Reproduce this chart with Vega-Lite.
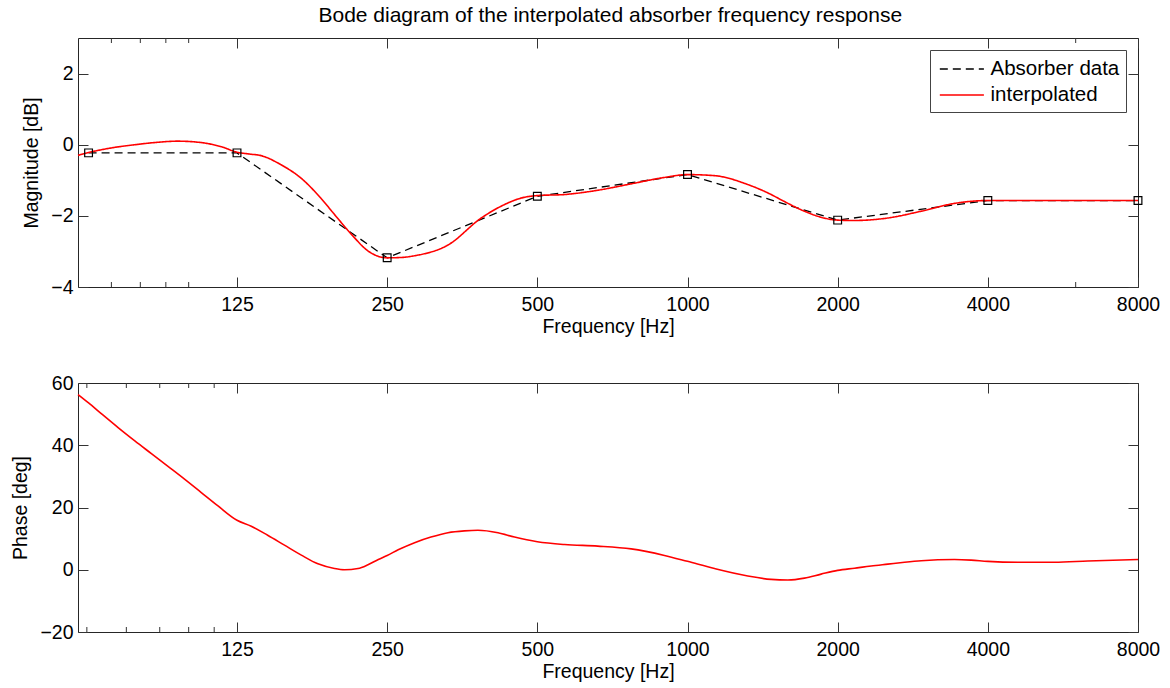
{
  "$schema": "https://vega.github.io/schema/vega-lite/v6.json",
  "background": "white",
  "padding": {"left": 10, "top": 5, "right": 5, "bottom": 5},
  "title": {"text": "Bode diagram of the interpolated absorber frequency response", "anchor": "middle", "fontSize": 21, "fontWeight": "normal", "font": "Liberation Sans", "color": "#000", "offset": 11, "dx": 25},
  "spacing": 36,
  "datasets": {
    "absorber": [
      {"f": 63, "mag": -0.23}, {"f": 125, "mag": -0.23}, {"f": 250, "mag": -3.18}, {"f": 500, "mag": -1.45},
      {"f": 1000, "mag": -0.84}, {"f": 2000, "mag": -2.12}, {"f": 4000, "mag": -1.57}, {"f": 8000, "mag": -1.57}
    ],
    "interp": [
      {"f": 60, "mag": -0.30}, {"f": 63, "mag": -0.22}, {"f": 70, "mag": -0.09}, {"f": 78, "mag": 0.0},
      {"f": 85.4, "mag": 0.06}, {"f": 95, "mag": 0.10}, {"f": 106, "mag": 0.06}, {"f": 116.5, "mag": -0.06},
      {"f": 125, "mag": -0.21}, {"f": 132, "mag": -0.26}, {"f": 140, "mag": -0.31}, {"f": 153, "mag": -0.56},
      {"f": 168, "mag": -0.94}, {"f": 184, "mag": -1.50}, {"f": 196, "mag": -1.96}, {"f": 212, "mag": -2.52},
      {"f": 229, "mag": -2.99}, {"f": 250, "mag": -3.18}, {"f": 267, "mag": -3.17}, {"f": 284, "mag": -3.12},
      {"f": 331, "mag": -2.82}, {"f": 386, "mag": -2.06}, {"f": 430, "mag": -1.68}, {"f": 464, "mag": -1.50},
      {"f": 500, "mag": -1.43}, {"f": 567, "mag": -1.40}, {"f": 661, "mag": -1.28}, {"f": 771, "mag": -1.10},
      {"f": 899, "mag": -0.92}, {"f": 1000, "mag": -0.84}, {"f": 1133, "mag": -0.87}, {"f": 1321, "mag": -1.12},
      {"f": 1471, "mag": -1.40}, {"f": 1541, "mag": -1.55}, {"f": 1716, "mag": -1.87}, {"f": 1853, "mag": -2.04},
      {"f": 2000, "mag": -2.12}, {"f": 2162, "mag": -2.13}, {"f": 2521, "mag": -2.06}, {"f": 2941, "mag": -1.87},
      {"f": 3430, "mag": -1.65}, {"f": 4000, "mag": -1.57}, {"f": 5000, "mag": -1.57}, {"f": 8000, "mag": -1.57}
    ],
    "phase": [
      {"f": 60, "ph": 56.3}, {"f": 63, "ph": 53.6}, {"f": 67, "ph": 50.0}, {"f": 72.3, "ph": 45.6},
      {"f": 78, "ph": 41.4}, {"f": 84.2, "ph": 37.3}, {"f": 90.9, "ph": 33.2}, {"f": 98.1, "ph": 29.1},
      {"f": 106, "ph": 24.8}, {"f": 114.5, "ph": 20.5}, {"f": 125, "ph": 15.9}, {"f": 133.5, "ph": 14.0},
      {"f": 144, "ph": 11.1}, {"f": 155.6, "ph": 7.9}, {"f": 168.2, "ph": 4.7}, {"f": 181.6, "ph": 1.9},
      {"f": 196, "ph": 0.4}, {"f": 205.3, "ph": 0.0}, {"f": 218.5, "ph": 0.4}, {"f": 228.8, "ph": 1.6},
      {"f": 240, "ph": 3.3}, {"f": 250, "ph": 4.6}, {"f": 263, "ph": 6.4}, {"f": 283.7, "ph": 8.7},
      {"f": 306, "ph": 10.5}, {"f": 331, "ph": 11.9}, {"f": 357, "ph": 12.5}, {"f": 380, "ph": 12.7},
      {"f": 417, "ph": 11.9}, {"f": 450, "ph": 10.5}, {"f": 500, "ph": 9.0}, {"f": 567, "ph": 8.1},
      {"f": 661, "ph": 7.6}, {"f": 771, "ph": 6.7}, {"f": 899, "ph": 4.6}, {"f": 1000, "ph": 2.7},
      {"f": 1133, "ph": 0.4}, {"f": 1321, "ph": -2.0}, {"f": 1471, "ph": -3.1}, {"f": 1589, "ph": -3.3},
      {"f": 1716, "ph": -2.7}, {"f": 1853, "ph": -1.4}, {"f": 2000, "ph": -0.2}, {"f": 2162, "ph": 0.5},
      {"f": 2334, "ph": 1.2}, {"f": 2521, "ph": 1.8}, {"f": 2723, "ph": 2.4}, {"f": 2941, "ph": 2.9},
      {"f": 3176, "ph": 3.2}, {"f": 3430, "ph": 3.3}, {"f": 3704, "ph": 3.1}, {"f": 4000, "ph": 2.7},
      {"f": 4665, "ph": 2.4}, {"f": 5441, "ph": 2.4}, {"f": 6346, "ph": 2.8}, {"f": 8000, "ph": 3.3}
    ],
    "minorMag": [{"f": 70}, {"f": 80}, {"f": 90}, {"f": 100}, {"f": 6000}],
    "minorPhase": [{"f": 62.5}, {"f": 75}, {"f": 87.5}, {"f": 100}, {"f": 112.5}]
  },
  "vconcat": [
    {
      "width": 1060,
      "height": 249,
      "resolve": {"axis": {"x": "independent", "y": "independent"}},
      "layer": [
        {
          "data": {"name": "absorber"},
          "mark": {"type": "line", "strokeWidth": 1.3},
          "encoding": {
            "x": {"field": "f", "type": "quantitative", "scale": {"type": "log", "domain": [60, 8000], "nice": false},
                  "axis": {"orient": "bottom", "values": [125, 250, 500, 1000, 2000, 4000, 8000], "format": "d", "title": "Frequency [Hz]"}},
            "y": {"field": "mag", "type": "quantitative", "scale": {"domain": [-4, 3], "nice": false, "zero": false},
                  "axis": {"orient": "left", "values": [-4, -2, 0, 2], "format": "d", "title": "Magnitude [dB]"}},
            "color": {"datum": "Absorber data", "scale": {"domain": ["Absorber data", "interpolated"], "range": ["#000000", "#ff0000"]}, "legend": {"title": null}},
            "strokeDash": {"datum": "Absorber data", "scale": {"domain": ["Absorber data", "interpolated"], "range": [[8, 5], [1, 0]]}, "legend": {"title": null}}
          }
        },
        {
          "data": {"name": "interp"},
          "mark": {"type": "line", "strokeWidth": 1.6, "interpolate": "monotone"},
          "encoding": {
            "x": {"field": "f", "type": "quantitative", "axis": null},
            "y": {"field": "mag", "type": "quantitative", "axis": null},
            "color": {"datum": "interpolated"},
            "strokeDash": {"datum": "interpolated"}
          }
        },
        {
          "data": {"name": "absorber"},
          "mark": {"type": "point", "shape": "square", "size": 60, "filled": false, "stroke": "#000", "strokeWidth": 1.2, "opacity": 1},
          "encoding": {
            "x": {"field": "f", "type": "quantitative", "axis": null},
            "y": {"field": "mag", "type": "quantitative", "axis": null}
          }
        },
        {
          "data": {"name": "minorMag"},
          "mark": {"type": "tick", "orient": "vertical", "size": 10, "thickness": 1, "color": "#333", "opacity": 1, "clip": true},
          "encoding": {
            "x": {"field": "f", "type": "quantitative", "axis": null},
            "y": {"datum": -4, "axis": null}
          }
        },
        {
          "data": {"name": "minorMag"},
          "mark": {"type": "tick", "orient": "vertical", "size": 10, "thickness": 1, "color": "#333", "opacity": 1, "clip": true},
          "encoding": {
            "x": {"field": "f", "type": "quantitative",
                  "axis": {"orient": "top", "values": [125, 250, 500, 1000, 2000, 4000, 8000], "labels": false, "title": null}},
            "y": {"datum": 3,
                  "axis": {"orient": "right", "values": [-4, -2, 0, 2], "labels": false, "title": null}}
          }
        }
      ]
    },
    {
      "width": 1060,
      "height": 249,
      "resolve": {"axis": {"x": "independent", "y": "independent"}},
      "layer": [
        {
          "data": {"name": "phase"},
          "mark": {"type": "line", "strokeWidth": 1.6, "interpolate": "monotone", "color": "#ff0000"},
          "encoding": {
            "x": {"field": "f", "type": "quantitative", "scale": {"type": "log", "domain": [60, 8000], "nice": false},
                  "axis": {"orient": "bottom", "values": [125, 250, 500, 1000, 2000, 4000, 8000], "format": "d", "title": "Frequency [Hz]"}},
            "y": {"field": "ph", "type": "quantitative", "scale": {"domain": [-20, 60], "nice": false, "zero": false},
                  "axis": {"orient": "left", "values": [-20, 0, 20, 40, 60], "format": "d", "title": "Phase [deg]"}}
          }
        },
        {
          "data": {"name": "minorPhase"},
          "mark": {"type": "tick", "orient": "vertical", "size": 10, "thickness": 1, "color": "#333", "opacity": 1, "clip": true},
          "encoding": {
            "x": {"field": "f", "type": "quantitative", "axis": null},
            "y": {"datum": -20, "axis": null}
          }
        },
        {
          "data": {"name": "minorPhase"},
          "mark": {"type": "tick", "orient": "vertical", "size": 10, "thickness": 1, "color": "#333", "opacity": 1, "clip": true},
          "encoding": {
            "x": {"field": "f", "type": "quantitative",
                  "axis": {"orient": "top", "values": [125, 250, 500, 1000, 2000, 4000, 8000], "labels": false, "title": null}},
            "y": {"datum": 60,
                  "axis": {"orient": "right", "values": [-20, 0, 20, 40, 60], "labels": false, "title": null}}
          }
        }
      ]
    }
  ],
  "config": {
    "font": "Liberation Sans",
    "view": {"stroke": "#262626", "strokeWidth": 1},
    "axis": {
      "grid": false, "domain": false, "ticks": true, "tickSize": -10, "tickColor": "#333", "tickWidth": 1,
      "labelFont": "Liberation Sans", "labelFontSize": 19.5, "labelColor": "#000", "labelFlush": false, "labelOverlap": false,
      "titleFont": "Liberation Sans", "titleFontSize": 19.5, "titleFontWeight": "normal", "titleColor": "#000"
    },
    "axisX": {"labelPadding": 18, "titlePadding": 3.5},
    "axisY": {"labelPadding": 15, "titlePadding": 9},
    "legend": {
      "orient": "top-right", "offset": 12, "strokeColor": "#444", "fillColor": "white", "padding": 6,
      "labelFont": "Liberation Sans", "labelFontSize": 20.5, "labelColor": "#000",
      "symbolType": "M-0.75,0H2.85", "symbolSize": 600, "symbolStrokeWidth": 1.5, "rowPadding": 2, "labelOffset": 28.5
    }
  }
}
